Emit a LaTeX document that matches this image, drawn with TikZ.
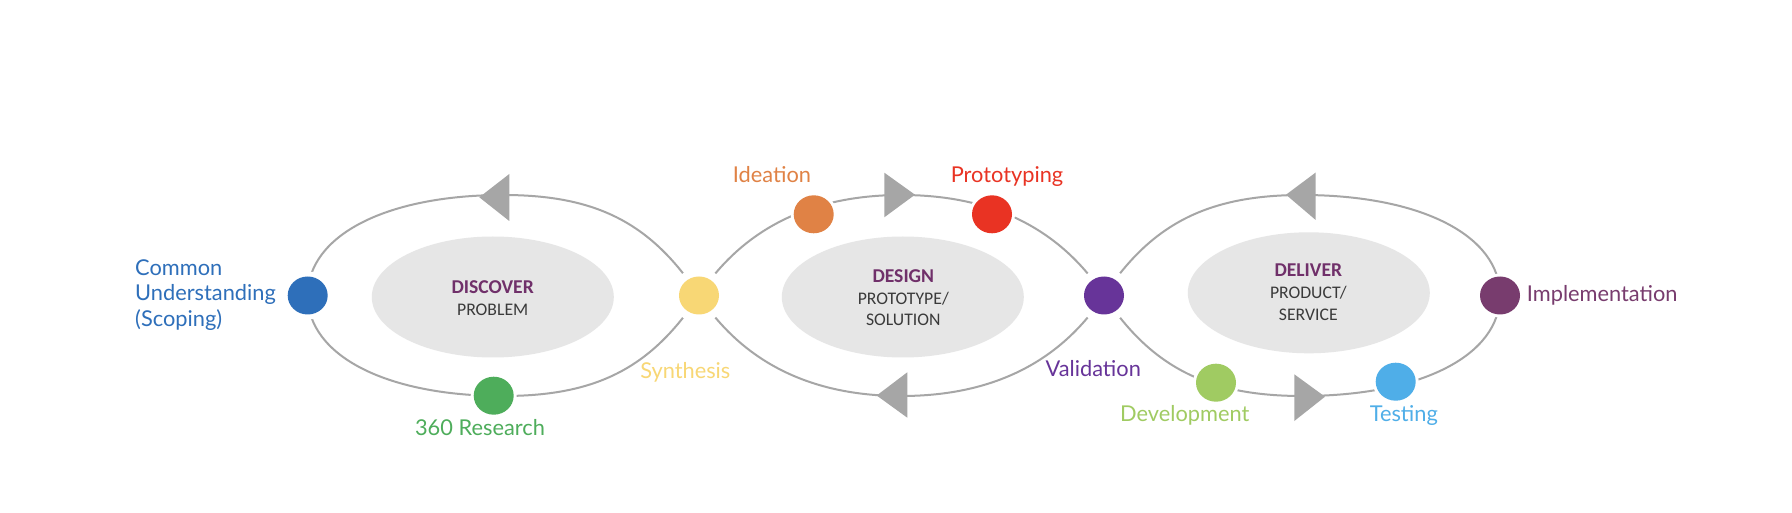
\documentclass[tikz,border=0pt]{standalone}
\usepackage{fontspec}
\setmainfont{Lato}
\newfontfamily\carl{Carlito}
\usetikzlibrary{shapes.geometric}
\pgfdeclarelayer{bglayer}
\pgfdeclarelayer{ringlayer}
\pgfsetlayers{bglayer,ringlayer,main}

\definecolor{ringgray}{HTML}{A6A6A6}
\definecolor{innergray}{HTML}{E6E6E6}
\definecolor{titlepurple}{HTML}{70306A}
\definecolor{subgray}{HTML}{3A3A3A}
\definecolor{cblue}{HTML}{2E6FBA}
\definecolor{cgreen}{HTML}{4EAD5B}
\definecolor{cyellow}{HTML}{F8D775}
\definecolor{corange}{HTML}{E08245}
\definecolor{cred}{HTML}{E93323}
\definecolor{cviolet}{HTML}{673499}
\definecolor{clime}{HTML}{A0CB62}
\definecolor{csky}{HTML}{4FAEE8}
\definecolor{cplum}{HTML}{783C6E}

\begin{document}
\begin{tikzpicture}[x=1pt,y=1pt,
  ring/.style={draw=ringgray, line width=2pt},
  dot/.style={ellipse, minimum width=40pt, minimum height=38pt, inner sep=0pt, fill=#1},
  halo/.style={preaction={draw=white, line width=#1}},
  tri/.style={fill=ringgray},
  innerell/.style={ellipse, fill=innergray, minimum width=242pt, minimum height=121pt, inner sep=0pt},
  lbl/.style={inner sep=0pt, anchor=base, font=\fontsize{21.8}{25.7}\selectfont, text=#1},
  ttl/.style={inner sep=0pt, anchor=base, font=\carl\bfseries\fontsize{19.6}{22}\selectfont, text=titlepurple},
  sub/.style={inner sep=0pt, anchor=base, font=\carl\fontsize{17.7}{21.7}\selectfont, text=subgray},
]
\useasboundingbox (0,0) rectangle (1792,512);
\begin{pgfonlayer}{bglayer}
\fill[white] (0,0) rectangle (1792,512);
\end{pgfonlayer}

% apex coordinates of the three loops
\coordinate (t1) at (503.4,317);
\coordinate (b1) at (503.4,116);
\coordinate (t2) at (901.5,317);
\coordinate (b2) at (901.5,116);
\coordinate (t3) at (1302,317);
\coordinate (b3) at (1302,116);

% dots
\node[dot=cblue, halo=10pt] (dCommon) at (307.7,216.5) {};
\node[dot=cgreen, halo=6pt] (dResearch) at (493.7,116.3) {};
\node[dot=cyellow, halo=16pt] (dSynth) at (699,216.5) {};
\node[dot=corange, halo=6pt] (dIdea) at (813.7,297.7) {};
\node[dot=cred, halo=6pt] (dProto) at (992,297.7) {};
\node[dot=cviolet, halo=16pt] (dValid) at (1104,216.5) {};
\node[dot=clime, halo=6pt] (dDev) at (1216,129.3) {};
\node[dot=csky, halo=6pt] (dTest) at (1395.7,130.3) {};
\node[dot=cplum, halo=6pt] (dImpl) at (1500,216.5) {};

% inner ellipses and their texts
\begin{pgfonlayer}{bglayer}
\node[innerell] (nDiscover) at (492.8,215) {};
\node[innerell] (nDesign) at (902.8,215) {};
\node[innerell] (nDeliver) at (1308.8,219.2) {};
\end{pgfonlayer}
\node[ttl] (tDiscover) at (492.7,218.7) {DISCOVER};
\node[sub] (sDiscover) at (492.7,196.7) {PROBLEM};
\node[ttl] (tDesign) at (903.3,229.3) {DESIGN};
\node[sub] (sDesign) at (903.3,207.7) {\vtop{\hbox to 0pt{\hss PROTOTYPE/\hss}\hbox to 0pt{\hss SOLUTION\hss}}};
\node[ttl] (tDeliver) at (1308.3,235.3) {DELIVER};
\node[sub] (sDeliver) at (1308.3,213) {\vtop{\hbox to 0pt{\hss PRODUCT/\hss}\hbox to 0pt{\hss SERVICE\hss}}};

% rings
\begin{pgfonlayer}{ringlayer}
\draw[ring] (dCommon.center) .. controls +(0,60) and +(-117.4,0) .. (t1)
  .. controls +(95,0) and +(-47,71) .. (dSynth.center)
  .. controls +(-47,-71) and +(95,0) .. (b1)
  .. controls +(-117.4,0) and +(0,-60) .. (dCommon.center);
\draw[ring] (dSynth.center) .. controls +(46.8,71) and +(-85,0) .. (t2)
  .. controls +(85,0) and +(-46.8,71) .. (dValid.center)
  .. controls +(-46.8,-71) and +(85,0) .. (b2)
  .. controls +(-85,0) and +(46.8,-71) .. (dSynth.center);
\draw[ring] (dValid.center) .. controls +(47,71) and +(-95,0) .. (t3)
  .. controls +(118.8,0) and +(0,60) .. (dImpl.center)
  .. controls +(0,-60) and +(118.8,0) .. (b3)
  .. controls +(-95,0) and +(47,-71) .. (dValid.center);
\end{pgfonlayer}

% direction triangles
\fill[tri] (479.3,314.7) -- (509.3,338) -- (509.3,291) -- cycle;
\fill[tri] (915,317.3) -- (884.3,339.3) -- (884.3,294.7) -- cycle;
\fill[tri] (876.7,116.5) -- (907.3,139.7) -- (907.3,94.3) -- cycle;
\fill[tri] (1286,317.3) -- (1315.7,339.5) -- (1315.7,292) -- cycle;
\fill[tri] (1325,115.3) -- (1294.3,137.7) -- (1294.3,91) -- cycle;

% labels
\node[lbl=cblue, anchor=base west] (lCommon) at (135,236.7)
  {\vtop{\hbox{Common}\hbox{Understanding}\hbox{(Scoping)}}};
\node[lbl=cgreen] (lResearch) at (480,77) {360 Research};
\node[lbl=cyellow] (lSynth) at (685.3,133) {Synthesis};
\node[lbl=corange] (lIdea) at (772,329.7) {Ideation};
\node[lbl=cred] (lProto) at (1007,329.7) {Prototyping};
\node[lbl=cviolet] (lValid) at (1093.3,135.3) {Validation};
\node[lbl=clime] (lDev) at (1184.8,90.3) {Development};
\node[lbl=csky] (lTest) at (1403.8,90.3) {Testing};
\node[lbl=cplum, anchor=base west] (lImpl) at (1526.7,210.3) {Implementation};
\end{tikzpicture}
\end{document}
